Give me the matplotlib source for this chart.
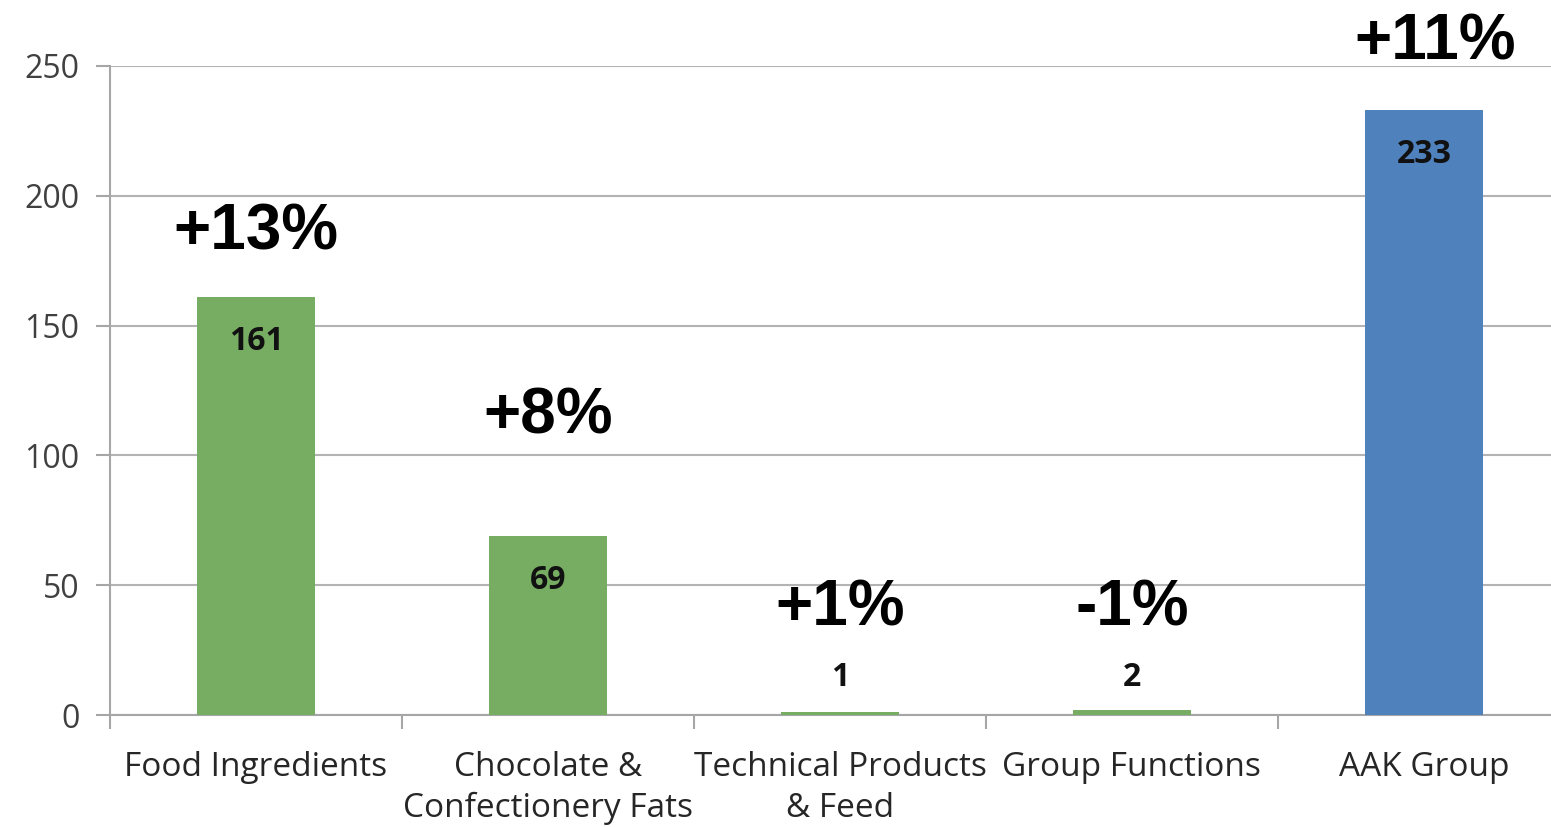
import matplotlib.pyplot as plt
import numpy as np

categories = ["Food Ingredients", "Chocolate &\nConfectionery Fats",
              "Technical Products\n& Feed", "Group Functions", "AAK Group"]
values = [161, 69, 1, 2, 233]
changes = ["+13%", "+8%", "+1%", "-1%", "+11%"]
# vertical spot (in data units) of the growth labels
change_y = [186, 115, 41, 41, 259]
bar_colors = ["#77ad62", "#77ad62", "#77ad62", "#77ad62", "#4f81bd"]

fig = plt.figure(figsize=(15.51, 8.27), dpi=100)
ax = fig.add_axes([0.0709, 0.1354, 0.9413, 0.7848])

x = np.arange(len(categories))
bars = ax.bar(x, values, width=0.405, color=bar_colors, zorder=3)

ax.set_xlim(-0.5, 4.5)
ax.set_ylim(0, 250)
ax.set_yticks(range(0, 251, 50))
ax.grid(axis="y", color="#b3b3b3", linewidth=1.5, zorder=0)

for side in ["top", "right"]:
    ax.spines[side].set_visible(False)
ax.spines["left"].set_color("#a6a6a6")
ax.spines["bottom"].set_color("#a6a6a6")
ax.spines["left"].set_linewidth(1.5)
ax.spines["bottom"].set_linewidth(1.5)

ax.set_xticks(x)
ax.set_xticklabels(categories, fontsize=24, family="Open Sans",
                   color="#262626", linespacing=1.3)
ax.set_xticks(np.arange(-0.5, 5, 1), minor=True)
ax.tick_params(axis="x", which="major", length=0, pad=26)
ax.tick_params(axis="x", which="minor", length=10, width=1.5, color="#a6a6a6")
ax.tick_params(axis="y", length=10, width=1.5, color="#a6a6a6",
               labelsize=23, labelcolor="#404040", pad=12)
for lbl in ax.get_yticklabels():
    lbl.set_family("Open Sans")

for bar, v in zip(bars, values):
    cx = bar.get_x() + bar.get_width() / 2
    ax.text(cx, v - 17 if v > 20 else 14.5, str(v),
            ha="center", va="center", fontsize=23, fontweight="bold",
            family="Open Sans", color="#111111", zorder=4)

for xi, txt, yy in zip(x, changes, change_y):
    ax.text(xi + (0.04 if xi == 4 else 0), yy, txt, ha="center", va="center",
            fontsize=46, fontweight="bold", family="Liberation Sans",
            color="black", clip_on=False, zorder=4)

plt.savefig("out.png", dpi=100)
plt.close()
